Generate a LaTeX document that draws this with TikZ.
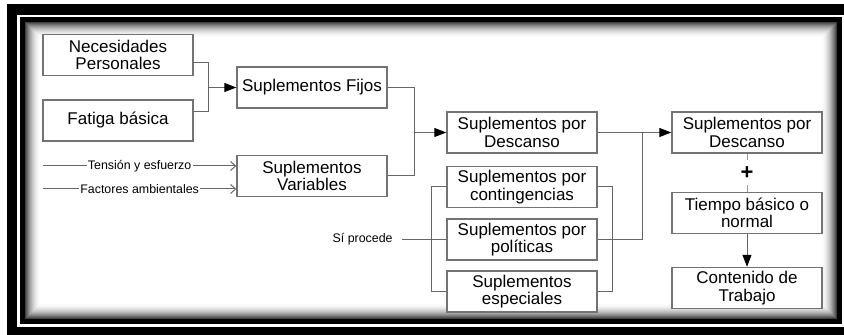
\documentclass[tikz,border=0pt]{standalone}
\usepackage{fontspec}
\setmainfont{Liberation Sans}
\usetikzlibrary{arrows.meta}

\begin{document}
\begin{tikzpicture}[x=0.5pt,y=-0.5pt,
    caja/.style={draw=black!55,line width=0.7pt,fill=white,minimum width=75pt,minimum height=20.5pt,
      inner xsep=2pt,inner ysep=0.5pt,align=center,font=\fontsize{8.5}{8.8}\selectfont},
    linea/.style={draw=black!60,line width=0.5pt},
    flecha/.style={linea,-{Triangle[length=6pt,width=4.5pt,black]}},
    abierta/.style={linea,-{Straight Barb[length=2.5pt,width=4.5pt]}},
    etiq/.style={fill=white,inner sep=0.6pt,font=\fontsize{6.2}{7}\selectfont}]
  \useasboundingbox (0,0) rectangle (844,335);
  \clip (0,0) rectangle (844,335);
  \fill[black] (7,4) rectangle (860,345);
  \fill[white] (17,15) rectangle (860,327);
  \fill[black] (20,17) rectangle (842,324);
  \fill[white] (25,22) rectangle (837,319);
  \foreach \i in {0,...,15} {
    \pgfmathsetmacro\g{75*(1-\i/16)^2}
    \draw[black!\g, line width=0.55pt] (25.5+\i,22.5+\i) rectangle (836.5-\i,318.5-\i);
  }
  \node[caja] (np) at (118,55) {Necesidades\\Personales};
  \node[caja] (fb) at (118,120.5) {Fatiga básica};
  \node[caja] (sf) at (312,87.5) {Suplementos Fijos};
  \node[caja] (sv) at (312,176) {Suplementos\\Variables};
  \node[caja] (sd1) at (522,132.5) {Suplementos por\\Descanso};
  \node[caja] (sd2) at (747,132.5) {Suplementos por\\Descanso};
  \node[caja] (cont) at (522,187) {Suplementos por\\contingencias};
  \node[caja] (pol) at (522,239.5) {Suplementos por\\políticas};
  \node[caja] (esp) at (522,291.5) {Suplementos\\especiales};
  \node[caja] (tb) at (747,213) {Tiempo básico o\\normal};
  \node[caja] (ct) at (747,288) {Contenido de\\Trabajo};
  \node[font=\fontsize{6.2}{7}\selectfont,anchor=east,inner sep=4.5pt] (si) at (402,239.5) {Sí procede};
  \coordinate (jf) at (208,87.5);
  \coordinate (js) at (414.5,132.5);
  \coordinate (jd) at (642,132.5);
  \coordinate (t1) at (43,166);
  \coordinate (t2) at (43,189);
  \draw[linea] ([yshift=-3.75pt]np.east) -| (jf);
  \draw[linea] ([yshift=4.4pt]fb.east) -| (jf);
  \draw[flecha] (jf) -- (sf.west);
  \draw[abierta] (t1) -- node[etiq] {Tensión y esfuerzo} ([yshift=5pt]sv.west);
  \draw[abierta] (t2) -- node[etiq] {Factores ambientales} ([yshift=-6.5pt]sv.west);
  \draw[linea] (sf.east) -| (js);
  \draw[linea] (sv.east) -| (js);
  \draw[flecha] (js) -- (sd1.west);
  \draw[linea] (sd1.east) -- (jd);
  \draw[flecha] (jd) -- (sd2.west);
  \draw[linea] (pol.east) -| (jd);
  \draw[linea] (cont.west) -- ++(-15,0) |- (esp.west);
  \draw[linea] (cont.east) -- ++(15,0) |- (esp.east);
  \draw[linea] (si.east) -- (pol.west);
  \draw[linea,black!40] (sd2) -- node[fill=white,text=black,inner sep=3pt,font=\fontsize{11}{11}\selectfont\bfseries] {+} (tb);
  \draw[flecha] (tb) -- (ct);
\end{tikzpicture}
\end{document}
